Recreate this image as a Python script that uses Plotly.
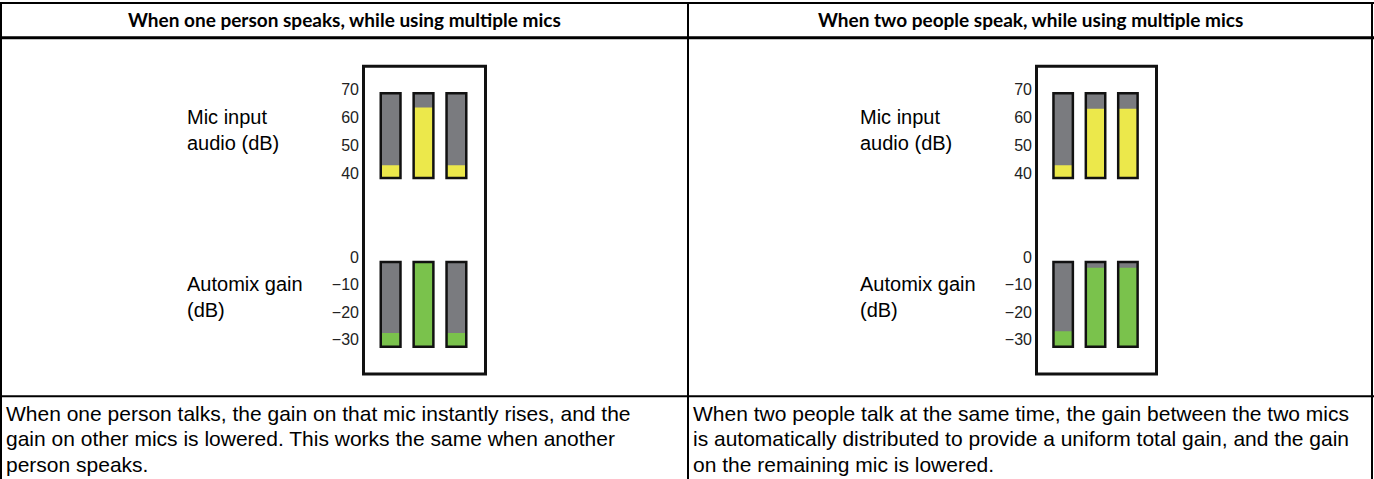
import plotly.graph_objects as go

W, H = 1374, 479

# ---------------- data ----------------
panel_titles = ["When one person speaks, while using multiple mics",
                "When two people speak, while using multiple mics"]
captions = [
    ["When one person talks, the gain on that mic instantly rises, and the",
     "gain on other mics is lowered. This works the same when another",
     "person speaks."],
    ["When two people talk at the same time, the gain between the two mics",
     "is automatically distributed to provide a uniform total gain, and the gain",
     "on the remaining mic is lowered."],
]
mics = [0, 1, 2]
input_ticks = [40, 50, 60, 70]
gain_ticks = [0, -10, -20, -30]
input_floor, input_ceiling = 38, 68        # meter scale of mic input (dB)
gain_floor, gain_ceiling = -33, -2.2       # meter scale of automix gain (dB)
input_levels = [[42.5, 63.0, 42.5],        # one person speaks
                [42.5, 62.5, 62.5]]        # two people speak
gain_levels = [[-28.0, -2.2, -28.0],
               [-27.3, -4.3, -4.3]]
input_label = "Mic input<br>audio (dB)"
gain_label = "Automix gain<br>(dB)"

# ---------------- styles ----------------
GRAY = "#7a7b7f"
YELLOW = "#ece84b"
GREEN = "#7ac24c"
BODY_FONT = "Liberation Sans, Arial, sans-serif"


def px(x):
    return x / W


def py(y):
    return 1 - y / H


fig = go.Figure()

frames = [(362, 487), (1035, 1158)]
frame_y = (63, 375)
top_dom = (80, 182)
bot_dom = (250, 352)
top_bar_rng = (40 - (182 - 171) / 2.833, 40 + (171 - 80) / 2.833)
bot_bar_rng = (-(352 - 255) / 2.767, (255 - 250) / 2.767)

axis_idx = 1
for p in range(2):
    fx0, fx1 = frames[p]
    for kind in range(2):
        if kind == 0:
            floor, ceil, levels, color = input_floor, input_ceiling, input_levels[p], YELLOW
            dom, rng, ticks = top_dom, top_bar_rng, input_ticks
        else:
            floor, ceil, levels, color = gain_floor, gain_ceiling, gain_levels[p], GREEN
            dom, rng, ticks = bot_dom, bot_bar_rng, gain_ticks
        xa = "x" if axis_idx == 1 else f"x{axis_idx}"
        ya = "y" if axis_idx == 1 else f"y{axis_idx}"
        span = [ceil - floor for _ in mics]
        fig.add_trace(go.Bar(x=mics, y=span, base=floor, width=0.6,
                             marker=dict(color=GRAY, line=dict(width=0)),
                             xaxis=xa, yaxis=ya, hoverinfo="skip", showlegend=False))
        fig.add_trace(go.Bar(x=mics, y=[v - floor for v in levels], base=floor, width=0.6,
                             marker=dict(color=color, line=dict(width=0)),
                             xaxis=xa, yaxis=ya, hoverinfo="skip", showlegend=False))
        fig.add_trace(go.Bar(x=mics, y=span, base=floor, width=0.6,
                             marker=dict(color="rgba(0,0,0,0)", line=dict(width=2.5, color="#111")),
                             xaxis=xa, yaxis=ya, hoverinfo="skip", showlegend=False))
        xkey = "xaxis" if axis_idx == 1 else f"xaxis{axis_idx}"
        ykey = "yaxis" if axis_idx == 1 else f"yaxis{axis_idx}"
        fig.layout[xkey] = dict(domain=[px(fx0), px(fx1)], range=[-0.87, 2.93],
                                visible=False, anchor=ya, fixedrange=True)
        fig.layout[ykey] = dict(domain=[py(dom[1]), py(dom[0])], range=list(rng),
                                anchor=xa, tickvals=[t - (0.5 if kind == 0 else 0.4) for t in ticks],
                                ticktext=[("\u2212" + str(-t)) if t < 0 else str(t) for t in ticks],
                                showgrid=False, zeroline=False,
                                showline=False, ticks="", ticklabelstandoff=2,
                                tickfont=dict(family=BODY_FONT, size=16, color="#222"),
                                fixedrange=True)
        axis_idx += 1

shapes = []
line = dict(color="black", width=2)
shapes.append(dict(type="line", xref="paper", yref="paper", x0=px(1), x1=px(1), y0=py(0), y1=py(H), line=line))
shapes.append(dict(type="line", xref="paper", yref="paper", x0=px(1372), x1=px(1372), y0=py(0), y1=py(H), line=line))
shapes.append(dict(type="line", xref="paper", yref="paper", x0=px(688), x1=px(688), y0=py(0), y1=py(H), line=line))
shapes.append(dict(type="line", xref="paper", yref="paper", x0=px(0), x1=px(1374), y0=py(1), y1=py(1), line=line))
shapes.append(dict(type="line", xref="paper", yref="paper", x0=px(0), x1=px(1374), y0=py(36), y1=py(36),
                   line=dict(color="black", width=3)))
shapes.append(dict(type="line", xref="paper", yref="paper", x0=px(0), x1=px(1374), y0=py(396), y1=py(396), line=line))
for fx0, fx1 in frames:
    shapes.append(dict(type="rect", xref="paper", yref="paper", x0=px(fx0 + 1.5), x1=px(fx1 - 1.5),
                       y0=py(frame_y[1] - 1.5), y1=py(frame_y[0] + 1.5),
                       line=dict(color="#111", width=3)))

ann = []
col_x = [(1, 688), (688, 1372)]
for p in range(2):
    c0, c1 = col_x[p]
    ann.append(dict(text=panel_titles[p], x=px((c0 + c1) / 2), y=py(18), xref="paper", yref="paper",
                    showarrow=False, xanchor="center", yanchor="middle",
                    font=dict(family="Lato, Open Sans, sans-serif", size=19, weight=700, color="black")))
    for i, t in enumerate(captions[p]):
        ann.append(dict(text=t, x=px(c0 + 3), y=py(413 + 25.5 * i), xref="paper", yref="paper",
                        showarrow=False, xanchor="left", yanchor="middle",
                        font=dict(family=BODY_FONT, size=21, color="black")))
    lx = 185 if p == 0 else 858
    ann.append(dict(text=input_label, x=px(lx), y=py(128.5), xref="paper", yref="paper",
                    showarrow=False, xanchor="left", yanchor="middle", align="left",
                    font=dict(family=BODY_FONT, size=20, color="black")))
    ann.append(dict(text=gain_label, x=px(lx), y=py(296), xref="paper", yref="paper",
                    showarrow=False, xanchor="left", yanchor="middle", align="left",
                    font=dict(family=BODY_FONT, size=20, color="black")))

fig.update_layout(width=W, height=H, margin=dict(l=0, r=0, t=0, b=0),
                  paper_bgcolor="white", plot_bgcolor="rgba(0,0,0,0)",
                  barmode="overlay", shapes=shapes, annotations=ann, showlegend=False)

fig.write_html("out.html", config={"displayModeBar": False},
               post_script="document.body.style.margin='0';document.body.style.overflow='hidden';")
